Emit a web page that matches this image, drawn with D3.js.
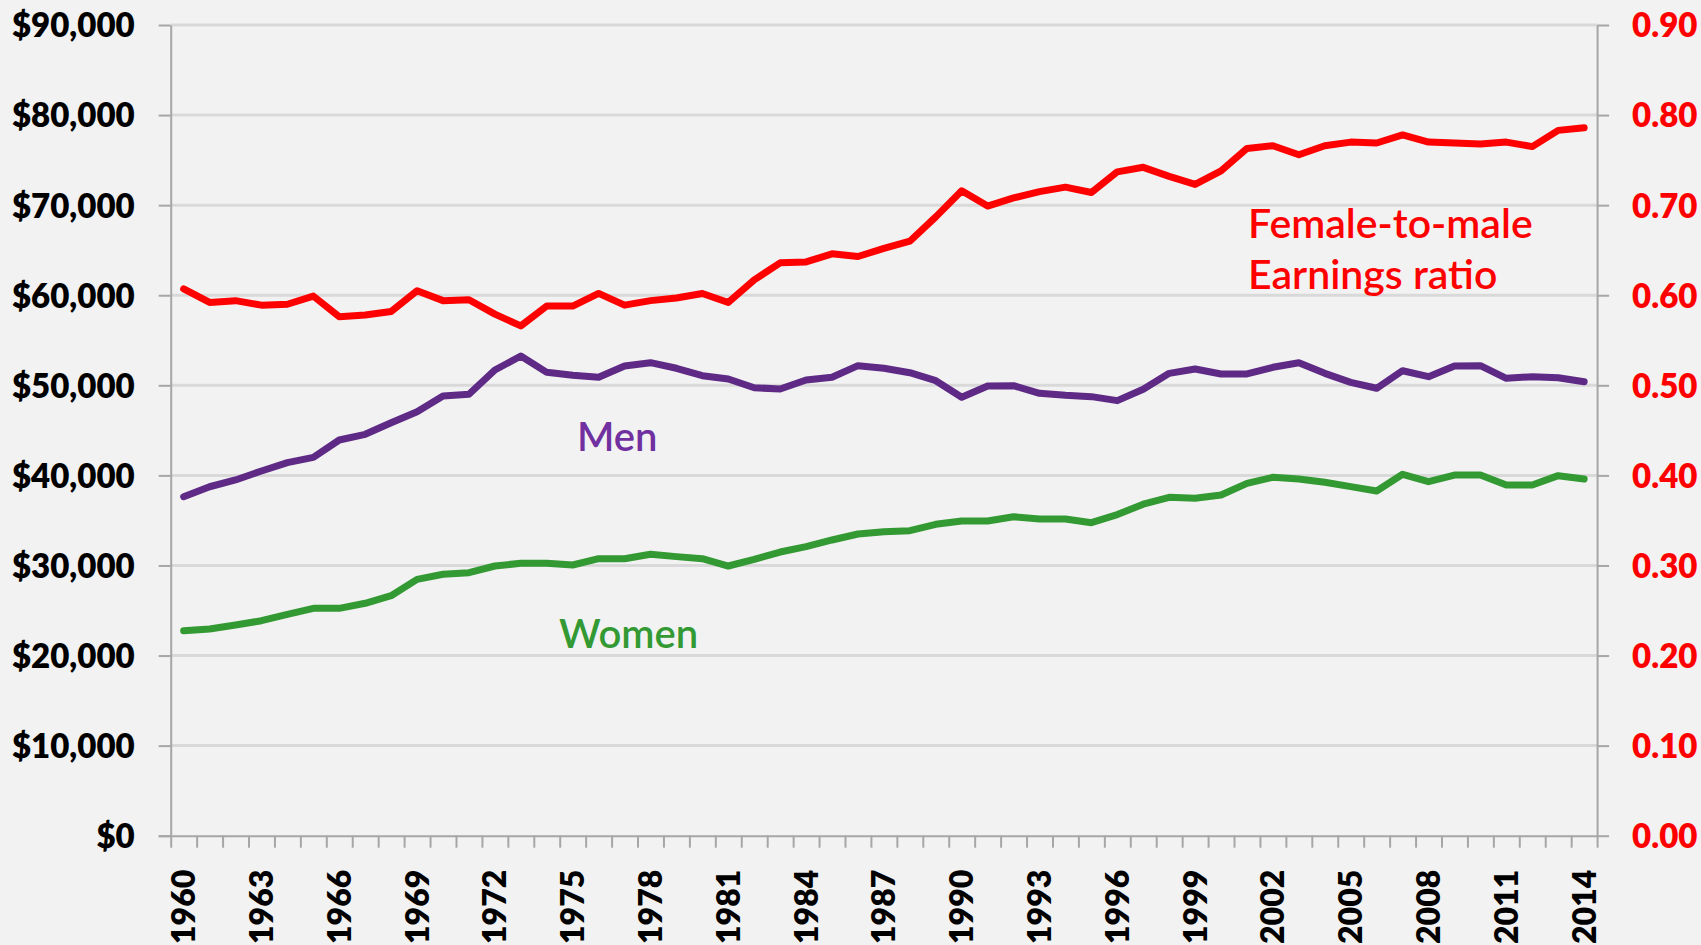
<!DOCTYPE html>
<html>
<head>
<meta charset="utf-8">
<script src="https://cdn.jsdelivr.net/npm/d3@7/dist/d3.min.js"></script>
<style>
  html, body { margin: 0; padding: 0; background: #F2F2F2; }
  svg { display: block; }
  text { font-family: Lato, "Noto Sans", sans-serif; }
</style>
</head>
<body>
<svg id="chart" width="1701" height="945"></svg>
<script>
const years = [1960,1961,1962,1963,1964,1965,1966,1967,1968,1969,
  1970,1971,1972,1973,1974,1975,1976,1977,1978,1979,
  1980,1981,1982,1983,1984,1985,1986,1987,1988,1989,
  1990,1991,1992,1993,1994,1995,1996,1997,1998,1999,
  2000,2001,2002,2003,2004,2005,2006,2007,2008,2009,
  2010,2011,2012,2013,2014];

const men = [37630,38740,39490,40490,41410,42000,43930,44560,45850,47070,
  48810,49000,51700,53250,51440,51110,50890,52140,52510,51890,
  51070,50700,49730,49590,50590,50890,52180,51890,51400,50510,
  48670,49920,49960,49110,48890,48740,48300,49560,51330,51810,
  51260,51260,52000,52510,51330,50330,49670,51620,50960,52140,
  52180,50780,50960,50840,50400];

const women = [22760,22950,23390,23870,24580,25240,25240,25800,26640,28460,
  29020,29200,29940,30240,30240,30050,30750,30750,31240,30980,
  30750,29940,30680,31490,32090,32830,33490,33750,33860,34570,
  34940,34940,35410,35160,35160,34750,35650,36800,37570,37460,
  37820,39120,39790,39600,39230,38750,38270,40120,39300,40040,
  40040,38930,38930,39970,39600];

const ratio = [0.607,0.592,0.594,0.589,0.590,0.599,0.576,0.578,0.582,0.605,
  0.594,0.595,0.579,0.566,0.588,0.588,0.602,0.589,0.594,0.597,
  0.602,0.592,0.617,0.636,0.637,0.646,0.643,0.652,0.660,0.687,
  0.716,0.699,0.708,0.715,0.720,0.714,0.737,0.742,0.732,0.723,
  0.738,0.763,0.766,0.756,0.766,0.770,0.769,0.778,0.770,0.769,
  0.768,0.770,0.765,0.783,0.786];

const leftTicks = [0,10000,20000,30000,40000,50000,60000,70000,80000,90000];
const rightTicks = [0,0.1,0.2,0.3,0.4,0.5,0.6,0.7,0.8,0.9];
const yearLabels = [1960,1963,1966,1969,1972,1975,1978,1981,1984,1987,1990,1993,1996,1999,2002,2005,2008,2011,2014];

const seriesLabels = [
  {text: "Men", color: "#7030A0"},
  {text: "Women", color: "#339933"}
];
const ratioLabel = ["Female-to-male", "Earnings ratio"];

// layout
const L = 170.7, R = 1597.1, T = 25, B = 835.7;
const svg = d3.select("#chart");

const x = d3.scaleBand().domain(years).range([L, R]).paddingInner(0).paddingOuter(0);
const xc = d => x(d) + x.bandwidth() / 2;
const xEdge = d3.scaleLinear().domain([0, years.length]).range([L, R]);
const yL = d3.scaleLinear().domain([0, 90000]).range([B, T]);
const yR = d3.scaleLinear().domain([0, 0.9]).range([B, T]);

// gridlines
svg.append("g").selectAll("line").data(leftTicks.filter(d => d > 0)).join("line")
  .attr("x1", L).attr("x2", R)
  .attr("y1", d => yL(d)).attr("y2", d => yL(d))
  .attr("stroke", "#D9D9D9").attr("stroke-width", 3);

const tickFont = "800 33px Lato, sans-serif";

// left axis
const gL = svg.append("g").attr("transform", `translate(${L},0)`)
  .call(d3.axisLeft(yL).tickValues(leftTicks).tickSize(12).tickSizeOuter(0).tickPadding(24)
    .tickFormat(d3.format("$,")));
gL.select(".domain").attr("stroke", "#A6A6A6").attr("stroke-width", 2);
gL.selectAll(".tick line").attr("stroke", "#A6A6A6").attr("stroke-width", 2);
gL.selectAll(".tick text").attr("fill", "#000").style("font", tickFont).attr("dy", "0.36em");

// right axis
const gR = svg.append("g").attr("transform", `translate(${R},0)`)
  .call(d3.axisRight(yR).tickValues(rightTicks).tickSize(12).tickSizeOuter(0).tickPadding(23)
    .tickFormat(d3.format(".2f")));
gR.select(".domain").attr("stroke", "#A6A6A6").attr("stroke-width", 2);
gR.selectAll(".tick line").attr("stroke", "#A6A6A6").attr("stroke-width", 2);
gR.selectAll(".tick text").attr("fill", "#FF0000").style("font", tickFont).attr("dy", "0.36em");

// bottom axis (ticks at category edges)
const gB = svg.append("g").attr("transform", `translate(0,${B})`)
  .call(d3.axisBottom(xEdge).tickValues(d3.range(0, years.length + 1)).tickSize(12).tickSizeOuter(0).tickFormat(""));
gB.select(".domain").attr("stroke", "#A6A6A6").attr("stroke-width", 2)
  .attr("d", `M${L - 12},0.5H${R}`);
gB.selectAll(".tick line").attr("stroke", "#A6A6A6").attr("stroke-width", 2);

// year labels
svg.append("g").selectAll("text").data(yearLabels).join("text")
  .attr("transform", d => `translate(${xc(d)},${B + 34}) rotate(-90)`)
  .attr("text-anchor", "end").attr("dy", "0.36em")
  .style("font", "800 32px Lato, sans-serif").attr("fill", "#000")
  .text(d => d);

// lines
const lineL = arr => d3.line().x((d, i) => xc(years[i])).y(d => yL(d))(arr);
const lineR = arr => d3.line().x((d, i) => xc(years[i])).y(d => yR(d))(arr);

svg.append("path").attr("d", lineL(women)).attr("fill", "none")
  .attr("stroke", "#339933").attr("stroke-width", 7).attr("stroke-linejoin", "round").attr("stroke-linecap", "round");
svg.append("path").attr("d", lineL(men)).attr("fill", "none")
  .attr("stroke", "#5E2A86").attr("stroke-width", 7).attr("stroke-linejoin", "round").attr("stroke-linecap", "round");
svg.append("path").attr("d", lineR(ratio)).attr("fill", "none")
  .attr("stroke", "#FF0000").attr("stroke-width", 7).attr("stroke-linejoin", "round").attr("stroke-linecap", "round");

// series labels
svg.append("text").attr("x", 577).attr("y", 451)
  .style("font", "600 40px Lato, sans-serif").attr("fill", seriesLabels[0].color).text(seriesLabels[0].text);
svg.append("text").attr("x", 559).attr("y", 648)
  .style("font", "600 40px Lato, sans-serif").attr("fill", seriesLabels[1].color).text(seriesLabels[1].text);
svg.append("text").attr("x", 1248).attr("y", 238)
  .style("font", "600 41px Lato, sans-serif").attr("fill", "#FF0000").text(ratioLabel[0]);
svg.append("text").attr("x", 1248).attr("y", 289)
  .style("font", "600 41px Lato, sans-serif").attr("fill", "#FF0000").text(ratioLabel[1]);
</script>
</body>
</html>
